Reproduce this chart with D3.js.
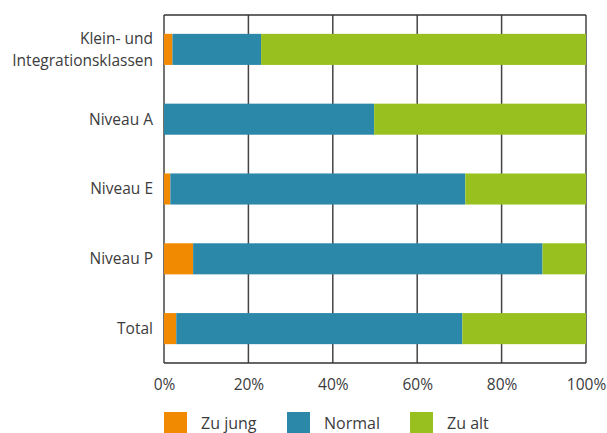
<!DOCTYPE html>
<html>
<head>
<meta charset="utf-8">
<script src="https://cdn.jsdelivr.net/npm/d3@7"></script>
<style>
    body { margin: 0; background: #fff; }
    text { font-family: "Open Sans", "Noto Sans", sans-serif; fill: #3c3c3c; }
</style>
</head>
<body>
<svg id="chart" width="607" height="433"></svg>
<script>
// categories, top to bottom
const categories = [["Klein- und", "Integrationsklassen"], ["Niveau A"], ["Niveau E"], ["Niveau P"], ["Total"]];
const seriesNames  = ["Zu jung", "Normal", "Zu alt"];
const seriesColors = ["#f18a00", "#2b88a8", "#98c11f"];

// shares in percent per category
const zuJung = [2.0, 0.0, 1.5, 6.9, 2.9];
const normal = [21.0, 49.8, 69.9, 82.8, 67.8];
const zuAlt  = [77.0, 50.2, 28.6, 10.3, 29.3];

const xTicks = [0, 20, 40, 60, 80, 100];

const svg    = d3.select("#chart");
const margin = { top: 15, right: 21, bottom: 70, left: 164 };
const width  = 607 - margin.left - margin.right;
const height = 433 - margin.top - margin.bottom;

const g = svg.append("g").attr("transform", `translate(${margin.left},${margin.top})`);

const rows = categories.map((c, i) => ({ key: i, label: c, "Zu jung": zuJung[i], "Normal": normal[i], "Zu alt": zuAlt[i] }));

const x = d3.scaleLinear().domain([0, 100]).range([0, width]);
const y = d3.scaleBand().domain(rows.map(d => d.key)).range([0, height]).paddingInner(0.555).paddingOuter(0.27);

// gridlines
g.selectAll(".grid").data(xTicks)
    .enter().append("line")
    .attr("x1", d => x(d)).attr("x2", d => x(d))
    .attr("y1", 0).attr("y2", height)
    .attr("stroke", "#444").attr("stroke-width", 1.5);

// frame top / bottom
g.append("line").attr("x1", 0).attr("x2", width).attr("y1", 0).attr("y2", 0)
    .attr("stroke", "#333").attr("stroke-width", 1.5);
g.append("line").attr("x1", 0).attr("x2", width).attr("y1", height).attr("y2", height)
    .attr("stroke", "#333").attr("stroke-width", 1.5);

// stacked bars
const stacked = d3.stack().keys(seriesNames)(rows);

g.selectAll(".series").data(stacked)
    .enter().append("g")
    .attr("fill", (d, i) => seriesColors[i])
    .selectAll("rect").data(d => d)
    .enter().append("rect")
    .attr("x", d => x(d[0]))
    .attr("width", d => x(d[1]) - x(d[0]))
    .attr("y", d => y(d.data.key))
    .attr("height", y.bandwidth());

// x axis labels
const xAxis = d3.axisBottom(x).tickValues(xTicks).tickFormat(d => d + "%").tickSize(0).tickPadding(16);
const gx = g.append("g").attr("transform", `translate(0,${height})`).call(xAxis);
gx.select(".domain").remove();
gx.selectAll("text").attr("font-size", 15.5).attr("font-family", null).attr("fill", null);

// y axis labels
const gy = g.append("g");
rows.forEach(r =>
{
    const cy = y(r.key) + y.bandwidth() / 2;
    const n  = r.label.length;
    r.label.forEach((line, j) =>
    {
        gy.append("text")
            .attr("x", -11)
            .attr("y", cy + (j - (n - 1) / 2) * 21.5)
            .attr("dy", "0.35em")
            .attr("text-anchor", "end")
            .attr("font-size", 15.5)
            .text(line);
    });
});

// legend
const legendX = [0, 123, 246];
const legend = svg.append("g").attr("transform", `translate(${margin.left},412)`);
seriesNames.forEach((name, i) =>
{
    legend.append("rect")
        .attr("x", legendX[i]).attr("y", 0)
        .attr("width", 23).attr("height", 22)
        .attr("fill", seriesColors[i]);
    legend.append("text")
        .attr("x", legendX[i] + 37).attr("y", 11)
        .attr("dy", "0.35em")
        .attr("font-size", 16)
        .text(name);
});
</script>
</body>
</html>
